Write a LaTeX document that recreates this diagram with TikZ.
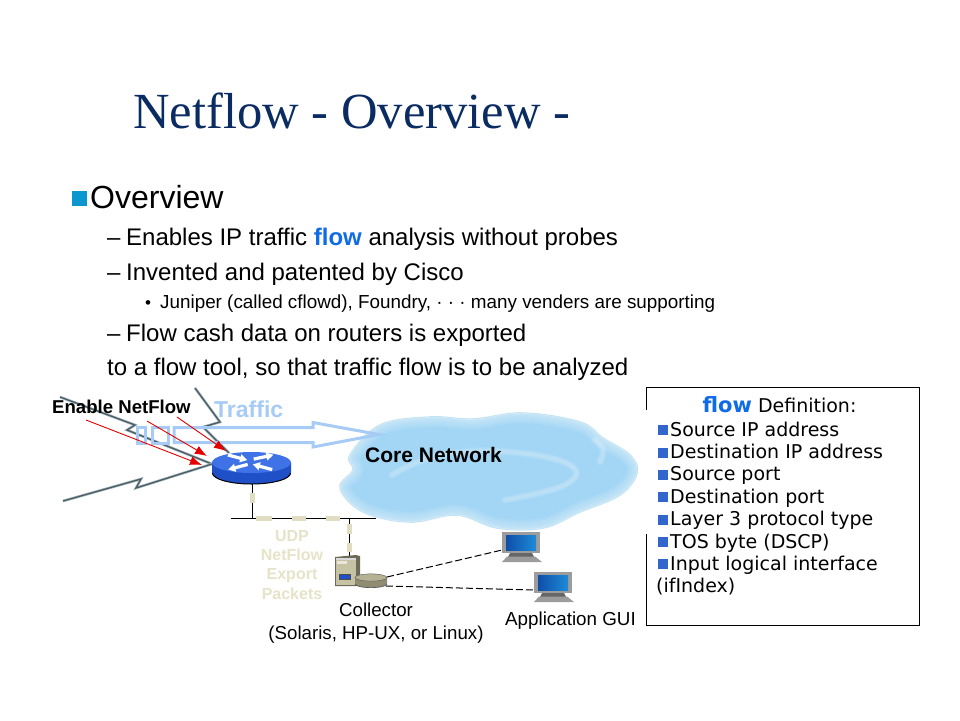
\documentclass[tikz,border=0pt]{standalone}
\usepackage{fontspec}
\setmainfont{Liberation Sans}
\newfontfamily\ttl{Liberation Serif}
\newfontfamily\boxf{DejaVu Sans}
\usetikzlibrary{arrows.meta,shapes.geometric,calc}
\definecolor{navy}{HTML}{0B2C62}
\definecolor{flowb}{HTML}{0F6BE8}
\definecolor{tan}{HTML}{E0DDC2}
\definecolor{tantx}{HTML}{E6E3C8}
\definecolor{trf}{HTML}{A6CBF5}
\definecolor{sq}{HTML}{3366CC}
\definecolor{cyansq}{HTML}{0A96CE}
\definecolor{cl}{HTML}{A3D6F5}
\definecolor{cle}{HTML}{BFE2F6}
\definecolor{rtop}{HTML}{3F72E6}
\definecolor{rside}{HTML}{1F50C8}
\definecolor{srvf}{HTML}{C6C3A4}
\definecolor{srvd}{HTML}{6E6C58}
\definecolor{dsk}{HTML}{B5B294}
\definecolor{dskd}{HTML}{8F8C72}
\definecolor{scrl}{HTML}{0F4FA8}
\definecolor{scrr}{HTML}{1E8AD8}
\definecolor{bez}{HTML}{9C9C9C}
\definecolor{bolta}{HTML}{4A5A60}
\definecolor{boltc}{HTML}{9FB4BC}
\tikzset{
  x=1pt,y=-1pt,
  txt/.style={anchor=base west,inner sep=0pt,text=black},
  ctr/.style={anchor=base,inner sep=0pt,text=black,align=center},
  bolt/.style={draw=bolta,line width=1.2pt,line join=miter},
  boltb/.style={draw=boltc,line width=2.6pt,line join=miter},
  redar/.style={draw=red!90!black,line width=.9pt,-{Latex[length=12pt,width=9pt]}},
  tandash/.style={draw=tan,line width=4.6pt},
  wire/.style={draw=black,line width=1pt},
  dashl/.style={draw=black,line width=1pt,dash pattern=on 7pt off 3pt},
  boxt/.style={anchor=base west,inner sep=0pt,font=\boxf\fontsize{19}{22}\selectfont},
  glow/.style={white,line cap=round,line join=round,opacity=.1},
}
\newcommand{\rarr}[3]{% white router arrow
  \fill[white,shift={(#1,#2)},rotate=#3] (-10,-1.6)--(3,-1.6)--(3,-4.2)--(10,0)--(3,4.2)--(3,1.6)--(-10,1.6)--cycle;}
\newcommand{\mon}[3]{% monitor with top-left corner
  \begin{scope}[shift={(#1,#2)}]
    \fill[bez] (0,0) rectangle (38,21);
    \fill[left color=scrl,right color=scrr] (4,3) rectangle (34,18);
    \fill[black!60] (8,21) -- (30,21) -- (32,25) -- (6,25) --cycle;
    \fill[bez] (5,24.5) -- (33,24.5) -- (40,30) -- (0,30) --cycle;
    \coordinate (#3) at (0,18);
  \end{scope}}
\newcommand{\cloudpts}{(350,455)(380,425)(430,417)(473,419)(523,413)(580,422)(603,438)(630,455)(637,473)(620,495)(580,512)(543,528)(497,528)(457,515)(410,522)(363,512)(340,488)(353,470)}
\begin{document}
\begin{tikzpicture}
\useasboundingbox (0,0) rectangle (960,720);
\fill[white] (0,0) rectangle (960,720);

% title and bullets
\node[txt,text=navy,font=\ttl\fontsize{50.6}{54}\selectfont] (title) at (133,128) {Netflow - Overview -};
\fill[cyansq] (71.5,191) rectangle (86.5,206);
\node[txt,font=\fontsize{32}{36}\selectfont] (ov) at (90,208) {Overview};
\node[txt,font=\fontsize{24}{26}\selectfont] (l1a) at (107,245) {–};
\node[txt,font=\fontsize{24}{26}\selectfont] (l1) at (126,245) {Enables IP traffic \textcolor{flowb}{\textbf{flow}} analysis without probes};
\node[txt,font=\fontsize{24}{26}\selectfont] (l2a) at (107,280) {–};
\node[txt,font=\fontsize{24}{26}\selectfont] (l2) at (126,280) {Invented and patented by Cisco};
\node[txt,font=\fontsize{17}{20}\selectfont] (l3a) at (145,308) {•};
\node[txt,font=\fontsize{18.85}{20}\selectfont] (l3) at (160,308) {Juniper (called cflowd), Foundry, · · · many venders are supporting};
\node[txt,font=\fontsize{24}{26}\selectfont] (l4a) at (107,341) {–};
\node[txt,font=\fontsize{24}{26}\selectfont] (l4) at (126,341) {Flow cash data on routers is exported};
\node[txt,font=\fontsize{24}{26}\selectfont] (l5) at (107,375) {to a flow tool, so that traffic flow is to be analyzed};

% cloud
\fill[cl,draw=cle,line width=1.5pt] plot[smooth cycle,tension=.62] coordinates {\cloudpts};
\begin{scope}
  \clip plot[smooth cycle,tension=.62] coordinates {\cloudpts};
  \foreach \w in {20,15,10,6}
    \draw[glow,line width=\w pt] plot[smooth cycle,tension=.62] coordinates {\cloudpts};
  \foreach \w in {7,5,3}{
    \draw[glow,line width=\w pt] plot[smooth,tension=.7] coordinates {(392,475)(440,455)(510,452)(570,465)(565,485)(505,500)};
    \draw[glow,line width=\w pt] plot[smooth,tension=.7] coordinates {(595,440)(603,450)(600,462)};
  }
\end{scope}
\node[txt,font=\bfseries\fontsize{21}{24}\selectfont] (core) at (365,462) {Core Network};

% bolts
\coordinate (rt) at (251.5,462.5);
\coordinate (rw) at (212,464);
\coordinate (rn) at (229,453);
\coordinate (rb) at (252.5,484);
\coordinate (b1s) at (60,397);\coordinate (b2s) at (195,388);\coordinate (b3s) at (63,501);
\draw[boltb] (b1s)--(135,425)--(127,430)--(rw);
\draw[bolt] (b1s)--(135,425)--(127,430)--(rw);
\draw[boltb] (b2s)--(220,422)--(203,427)--(rn);
\draw[bolt] (b2s)--(220,422)--(203,427)--(rn);
\draw[boltb] (b3s)--(141,479)--(136,488)--(rw);
\draw[bolt] (b3s)--(141,479)--(136,488)--(rw);

% traffic
\node[txt,text=trf,font=\bfseries\fontsize{23}{26}\selectfont] (traffic) at (214,417) {Traffic};
\draw[trf,line width=3pt] (137,427) rectangle (145,443);
\draw[trf,line width=3pt] (152,427) rectangle (168,443);
\draw[trf,line width=3pt,line join=miter] (174,427.5)--(313,427.5)--(313,422.5)--(379,434.5)--(313,447)--(313,442.5)--(174,442.5)--cycle;

% router
\fill[rside] (212,462.5)--(212,473) arc[start angle=180,end angle=0,x radius=39.5,y radius=11]--(291,462.5)--cycle;
\draw[black,line width=1pt] (212.5,473) arc[start angle=180,end angle=0,x radius=39,y radius=11];
\fill[rtop] (rt) ellipse[x radius=39.5,y radius=10.5];
\rarr{237.5}{457.5}{-15}
\rarr{263.5}{457}{12}
\rarr{238}{467}{195}
\rarr{262.5}{467}{165}

% red arrows
\draw[redar] (86,420)--(202,465);
\draw[redar] (147,421)--(207,456);
\draw[redar] (177,417)--(226,451);
\node[txt,font=\bfseries\fontsize{18.6}{20}\selectfont] (en) at (52,413) {Enable NetFlow};

% ethernet
\coordinate (sega) at (231,518.5);\coordinate (segb) at (376,518.5);
\coordinate (j1) at (252.5,518.5);\coordinate (j2) at (349.5,518.5);
\draw[wire] (sega)--(segb);
\draw[wire] (rb)--(j1);
\coordinate (srv) at (349.5,557);
\draw[wire] (j2)--(srv);
\foreach \a/\b in {256/272,292/306,326/340} \draw[tandash] (\a,518.5)--(\b,518.5);
\draw[tandash] (252.5,493)--(252.5,503);
\draw[tandash] (349.5,524)--(349.5,534);
\draw[tandash] (349.5,543)--(349.5,552);
\node[ctr,text=tantx,font=\bfseries\fontsize{16}{19.3}\selectfont] (udp) at (292,599) {UDP\\NetFlow\\Export\\Packets};

% server & disk
\fill[srvd] (335,557)--(356,555)--(360,556)--(360,585)--(356,586)--(335,586)--cycle;
\fill[srvf] (336,558) rectangle (356,585);
\fill[black!15] (336,558) rectangle (356,559.5);
\fill[white!60!srvf] (337,561) rectangle (347,564);
\fill[rside,draw=black!70,line width=.6pt] (339.5,574.5) rectangle (350.5,579.5);
\fill[dskd] (355,577.5)--(355,584) arc[start angle=180,end angle=0,x radius=16,y radius=3.6]--(387,577.5)--cycle;
\draw[black!70,line width=.6pt] (355,584) arc[start angle=180,end angle=0,x radius=16,y radius=3.6];
\fill[dsk,draw=black!60,line width=.5pt] (371,577.5) ellipse[x radius=16,y radius=3.6];
\coordinate (d1) at (387,577);\coordinate (d2) at (386,586);

% monitors
\mon{502}{532}{m1}
\mon{534}{572}{m2}
\draw[dashl] (d1)--(m1);
\draw[dashl] (d2)--(m2);

\node[ctr,font=\fontsize{18.7}{23}\selectfont] (coll) at (376,639) {Collector\\(Solaris, HP-UX, or Linux)};
\node[ctr,font=\fontsize{18.8}{20}\selectfont] (app) at (570.5,625) {Application GUI};

% definition box
\coordinate (ba) at (646.5,410);\coordinate (bb) at (646.5,387.5);\coordinate (bc) at (919.5,387.5);\coordinate (bd) at (919.5,625.5);\coordinate (be) at (646.5,625.5);\coordinate (bf) at (646.5,534);
\draw[black,line width=1pt] (ba)--(bb)--(bc)--(bd)--(be)--(bf);
\node[anchor=base,inner sep=0pt,font=\boxf\fontsize{19}{22}\selectfont] (dt) at (779.5,412) {\textcolor{flowb}{\bfseries\fontsize{21}{24}\selectfont flow} Definition:};
\foreach \y/\t in {436/Source IP address,458.5/Destination IP address,480.5/Source port,503/Destination port,525.5/Layer 3 protocol type,548/TOS byte (DSCP),570/Input logical interface}{
  \fill[sq] (658,\y-11) rectangle (668,\y-1);
  \node[boxt] at (670,\y) {\t};
}
\node[boxt] (ifi) at (656,592.5) {(ifIndex)};
\end{tikzpicture}
\end{document}
